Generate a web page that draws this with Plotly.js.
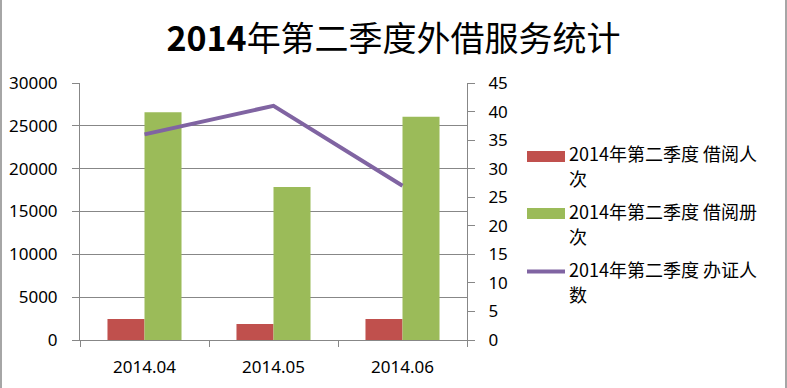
<!DOCTYPE html>
<html><head><meta charset="utf-8">
<script src="https://cdn.plot.ly/plotly-3.0.1.min.js"></script>
<style>html,body{margin:0;padding:0;background:#fff}#c{width:787px;height:388px}</style>
</head><body><div id="c"></div>
<script>
var categories = ["2014.04", "2014.05", "2014.06"];
var borrowPeople = [2450, 1870, 2450];
var borrowBooks = [26600, 17850, 26050];
var cardPeople = [36, 41, 27];
var seriesNames = ["2014年第二季度 借阅人次", "2014年第二季度 借阅册次", "2014年第二季度 办证人数"];
var colors = ["#C0504D", "#9BBB59", "#8064A2"];
var titleText = "<b>2014</b>年第二季度外借服务统计";

var L = 80, R = 467, T = 83, B = 340;
function px(x) { return (x - L) / (R - L); }
function py(y) { return (B - y) / (B - T); }

var cjk = "'Noto Sans CJK SC', 'Noto Sans', sans-serif";
var tickFont = {family: "'Noto Sans', 'DejaVu Sans', sans-serif", size: 17, color: "#000"};
var grey = "#878787";

var traces = [
  {type: "bar", x: categories, y: borrowPeople, name: seriesNames[0], marker: {color: colors[0]}},
  {type: "bar", x: categories, y: borrowBooks, name: seriesNames[1], marker: {color: colors[1]}},
  {type: "scatter", mode: "lines", x: categories, y: cardPeople, name: seriesNames[2], yaxis: "y2",
   line: {color: colors[2], width: 4}}
];

var shapes = [
  {type: "line", xref: "paper", yref: "paper", x0: px(1), x1: px(1), y0: py(0), y1: py(388), line: {color: "#888", width: 1.5}},
  {type: "line", xref: "paper", yref: "paper", x0: px(786), x1: px(786), y0: py(0), y1: py(388), line: {color: "#888", width: 1.5}},
  {type: "rect", xref: "paper", yref: "paper", x0: px(527), x1: px(565), y0: py(151), y1: py(162), fillcolor: colors[0], line: {width: 0}},
  {type: "rect", xref: "paper", yref: "paper", x0: px(527), x1: px(565), y0: py(208), y1: py(219), fillcolor: colors[1], line: {width: 0}},
  {type: "line", xref: "paper", yref: "paper", x0: px(527), x1: px(565), y0: py(271.5), y1: py(271.5), line: {color: colors[2], width: 4}}
];

var lineY = [[153, 178], [211, 236], [269, 294]];
var annotations = [];
seriesNames.forEach(function (n, i) {
  var parts = [n.slice(0, 13), n.slice(13)];
  parts.forEach(function (p, j) {
    annotations.push({xref: "paper", yref: "paper", x: px(567), y: py(lineY[i][j]), xanchor: "left", yanchor: "middle",
      text: p, showarrow: false, font: {family: cjk, size: 18, color: "#000"}});
  });
});

var layout = {
  width: 787, height: 388,
  margin: {l: L, r: 787 - R, t: T, b: 388 - B, pad: 0},
  paper_bgcolor: "#fff", plot_bgcolor: "#fff",
  title: {text: titleText, font: {family: cjk, size: 34, color: "#000"}, x: 0.5, xanchor: "center", y: 1 - 39 / 388, yanchor: "middle"},
  showlegend: false,
  barmode: "group", bargap: 0.426, bargroupgap: 0,
  xaxis: {type: "category", showline: true, linecolor: grey, linewidth: 1, ticks: "outside", ticklen: 6, tickcolor: grey,
    tickson: "boundaries", tickfont: tickFont, showgrid: false, zeroline: false, ticklabelstandoff: 12},
  yaxis: {range: [0, 30000], dtick: 5000, tickformat: "d", showline: true, linecolor: grey, linewidth: 1, ticks: "outside", ticklen: 7, tickcolor: grey,
    showgrid: true, gridcolor: grey, gridwidth: 1, zeroline: false, tickfont: tickFont, ticklabelstandoff: 11, fixedrange: true},
  yaxis2: {range: [0, 45], dtick: 5, overlaying: "y", side: "right", showline: true, linecolor: grey, linewidth: 1, ticks: "outside",
    ticklen: 7, tickcolor: grey, showgrid: false, zeroline: false, tickfont: tickFont, ticklabelstandoff: 10},
  shapes: shapes,
  annotations: annotations
};

Plotly.newPlot("c", traces, layout, {staticPlot: true, displayModeBar: false});
</script></body></html>
